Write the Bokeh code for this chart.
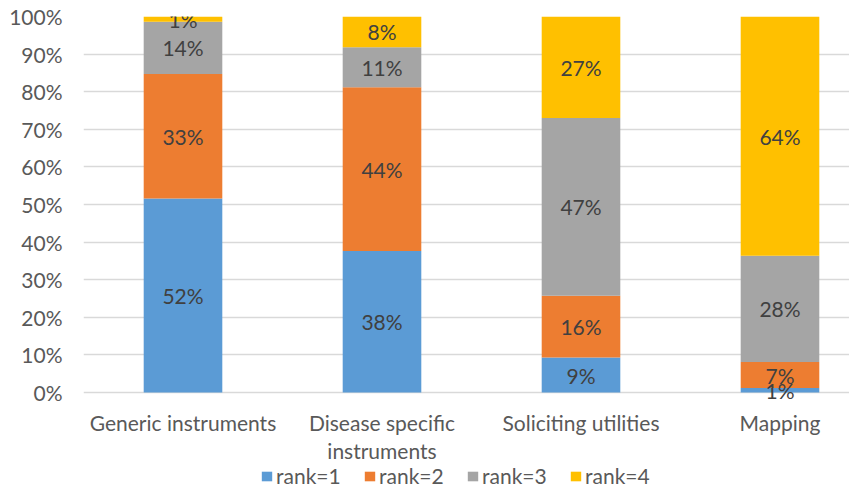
import numpy as np
from bokeh.plotting import figure
from bokeh.models import ColumnDataSource, FixedTicker, Legend, LegendItem, Range1d
from bokeh.core.properties import value
from bokeh.embed import file_html
from bokeh.resources import INLINE

categories = ["Generic instruments", "Disease specific\ninstruments", "Soliciting utilities", "Mapping"]
rank1 = [51.6, 37.6, 9.3, 1.2]
rank2 = [33.1, 43.6, 16.4, 6.9]
rank3 = [13.9, 10.6, 47.3, 28.3]
rank4 = [1.4, 8.2, 27.0, 63.6]
series_names = ["rank=1", "rank=2", "rank=3", "rank=4"]
colors = ["#5B9BD5", "#ED7D31", "#A5A5A5", "#FFC000"]
y_ticks = [0, 10, 20, 30, 40, 50, 60, 70, 80, 90, 100]

FONT = "Lato"
xs = list(range(len(categories)))
data = {"x": xs, "rank=1": rank1, "rank=2": rank2, "rank=3": rank3, "rank=4": rank4}
source = ColumnDataSource(data)

W, H, LEFT, TOP = 849, 488, 83, 16
PX_PER_PCT = 3.76
y_bottom = -(H - TOP - 100 * PX_PER_PCT) / PX_PER_PCT
p = figure(width=W, height=H, output_backend="svg", toolbar_location=None,
           x_range=Range1d(-0.5, -0.5 + (W - LEFT) / 199), y_range=Range1d(y_bottom, 100),
           min_border_left=LEFT, min_border_right=0, min_border_top=TOP, min_border_bottom=0)
p.outline_line_color = None
p.background_fill_color = "white"

renderers = p.vbar_stack(series_names, x="x", width=0.395, source=source, color=colors,
                         line_color=None)

vals = np.array([rank1, rank2, rank3, rank4])
cum = np.cumsum(vals, axis=0)
for i in range(4):
    mids = cum[i] - vals[i] / 2
    labels = [f"{round(v)}%" for v in vals[i]]
    p.text(x=xs, y=list(mids), text=labels, text_align="center", text_baseline="middle",
           text_font=value(FONT), text_font_size="21px", text_color="#404040")

p.xgrid.grid_line_color = None
p.ygrid.grid_line_color = "#D9D9D9"
p.ygrid.grid_line_width = 1.5
p.ygrid.ticker = FixedTicker(ticks=y_ticks)

p.yaxis.ticker = FixedTicker(ticks=y_ticks)
p.yaxis.major_label_overrides = {t: f"{t}%" for t in y_ticks}
p.yaxis.axis_line_color = None
p.yaxis.major_tick_line_color = None
p.yaxis.minor_tick_line_color = None
p.yaxis.major_tick_out = 0
p.yaxis.major_tick_in = 0
p.yaxis.major_label_standoff = 21
p.yaxis.major_label_text_font = FONT
p.yaxis.major_label_text_font_size = "21px"
p.yaxis.major_label_text_color = "#595959"

p.xaxis.fixed_location = 0
p.xaxis.ticker = FixedTicker(ticks=xs)
p.xaxis.major_label_overrides = {i: c for i, c in enumerate(categories)}
p.xaxis.axis_line_color = None
p.xaxis.major_tick_line_color = None
p.xaxis.minor_tick_line_color = None
p.xaxis.major_tick_out = 0
p.xaxis.major_tick_in = 0
p.xaxis.major_label_standoff = 17
p.xaxis.major_label_text_font = FONT
p.xaxis.major_label_text_font_size = "21px"
p.xaxis.major_label_text_color = "#595959"
p.xaxis.major_label_text_line_height = 1.12

legend = Legend(items=[LegendItem(label=n, renderers=[r]) for n, r in zip(series_names, renderers)],
                orientation="horizontal", location="bottom_center", margin=0, padding=0,
                spacing=0, glyph_width=13, glyph_height=12, label_standoff=3,
                label_width=87, label_height=20,
                label_text_font=FONT, label_text_font_size="21px", label_text_color="#595959",
                border_line_color=None, background_fill_alpha=0)
p.add_layout(legend, "center")

open("out.html", "w").write(file_html(p, INLINE))
